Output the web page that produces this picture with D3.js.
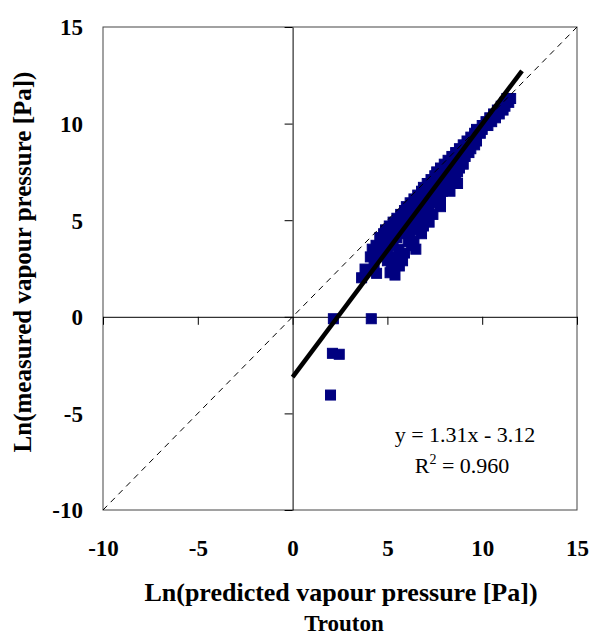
<!DOCTYPE html>
<html><head><meta charset="utf-8">
<script src="https://cdn.jsdelivr.net/npm/d3@7"></script>
<style>html,body{margin:0;padding:0;background:#fff;}svg{display:block;}</style>
</head><body><svg id="c" width="592" height="635"></svg>
<script>
// ---- data ----
const xTicks = [-10, -5, 0, 5, 10, 15];
const yTicks = [-10, -5, 0, 5, 10, 15];
const xTitle = "Ln(predicted vapour pressure [Pa])";
const xSubTitle = "Trouton";
const yTitle = "Ln(measured vapour pressure [Pa])";
const trendSlope = 1.31, trendIntercept = -3.12, trendR2 = 0.960;
const trendRange = [0, 12.1];
const identityRange = [-10, 15];
// [ln predicted, ln measured]
const observations = [
[11.5,11.3],[11.3,11.3],[11.2,11.1],[11.4,11.1],[11.0,10.9],[11.2,10.9],
[10.8,10.7],[11.1,10.7],[10.6,10.5],[10.9,10.5],[10.4,10.3],[10.7,10.3],
[10.2,10.1],[10.5,10.1],[10.0,9.9],[10.3,9.9],[9.7,9.7],[10.0,9.7],
[9.6,9.5],[9.9,9.5],[9.4,9.3],[9.6,9.3],[9.2,9.1],[9.5,9.1],[9.7,9.1],
[9.0,8.9],[9.3,8.9],[9.6,8.9],[8.8,8.7],[9.1,8.7],[9.4,8.7],
[8.6,8.5],[8.9,8.5],[9.3,8.5],[8.4,8.3],[8.8,8.3],[9.1,8.3],
[8.2,8.1],[8.5,8.1],[8.9,8.1],[8.0,7.9],[8.3,7.9],[8.7,7.9],[9.0,7.9],
[7.8,7.7],[8.1,7.7],[8.5,7.7],[8.8,7.7],[7.6,7.5],[7.9,7.5],[8.3,7.5],[8.7,7.5],
[7.5,7.3],[7.8,7.3],[8.1,7.3],[8.6,7.3],[7.3,7.1],[7.6,7.1],[8.0,7.1],[8.4,7.1],
[7.1,6.9],[7.5,6.9],[7.9,6.9],[8.3,6.9],[8.7,6.9],[6.9,6.7],[7.3,6.7],[7.7,6.7],[8.1,6.7],
[6.8,6.5],[7.1,6.5],[7.5,6.5],[7.9,6.5],[8.3,6.5],[6.6,6.3],[7.0,6.3],[7.4,6.3],[7.8,6.3],
[6.4,6.1],[6.8,6.1],[7.2,6.1],[7.6,6.1],[6.2,5.9],[6.6,5.9],[7.0,5.9],[7.4,5.9],[7.8,5.9],
[6.0,5.7],[6.4,5.7],[6.8,5.7],[7.2,5.7],[7.8,5.7],[5.9,5.5],[6.3,5.5],[6.7,5.5],[7.1,5.5],
[5.7,5.3],[6.1,5.3],[6.5,5.3],[6.9,5.3],[7.4,5.3],[5.5,5.1],[5.9,5.1],[6.4,5.1],[6.8,5.1],
[5.3,4.9],[5.7,4.9],[6.1,4.9],[6.6,4.9],[7.2,4.9],[5.1,4.7],[5.5,4.7],[6.0,4.7],[6.4,4.7],[6.9,4.7],
[4.9,4.5],[5.4,4.5],[5.8,4.5],[6.3,4.5],[4.8,4.3],[5.2,4.3],[5.7,4.3],[6.2,4.3],[6.8,4.3],
[4.6,4.1],[5.0,4.1],[5.5,4.1],[5.2,3.9],[6.1,3.9],[6.4,3.9],[4.4,3.7],[4.8,3.7],[5.3,3.7],
[4.2,3.5],[5.6,3.5],[6.5,3.5],[4.5,3.3],[5.0,3.3],[5.9,3.3],[4.1,3.1],[4.4,3.1],[5.4,3.1],
[5.0,2.9],[5.8,2.9],[4.3,2.7],[5.2,2.7],
[3.82,2.47],[3.64,2.02],[4.43,2.25],[5.14,2.28],[5.4,2.16],[5.63,2.63],[6.28,3.68],[4.61,3.63],
[2.15,-0.1],[4.15,-0.1],[2.1,-1.89],[2.46,-1.94],[2.0,-4.05]
];

// ---- drawing ----
const svg = d3.select("#c");
const serif = "'Liberation Serif','Times New Roman',serif";
const x = d3.scaleLinear().domain([-10, 15]).range([103, 577]);
const y = d3.scaleLinear().domain([-10, 15]).range([510, 27]);
const fmt = d => String(d); // plain hyphen-minus like the reference

svg.append("rect").attr("width", 592).attr("height", 635).attr("fill", "#fff");

// plot frame
svg.append("rect")
  .attr("x", x(-10)).attr("y", y(15))
  .attr("width", x(15) - x(-10)).attr("height", y(-10) - y(15))
  .attr("fill", "none").attr("stroke", "#444").attr("stroke-width", 1);

// zero axes with ticks
const xZero = svg.append("g").attr("transform", `translate(0,${y(0)})`)
  .call(d3.axisBottom(x).tickValues(xTicks).tickSizeInner(8).tickSizeOuter(0).tickFormat(""));
const yZero = svg.append("g").attr("transform", `translate(${x(0)},0)`)
  .call(d3.axisLeft(y).tickValues(yTicks).tickSizeInner(8).tickSizeOuter(0).tickFormat(""));
[xZero, yZero].forEach(g => {
  g.selectAll("path,line").attr("stroke", "#000").attr("stroke-width", 1);
});

// tick labels at the frame
const xLab = svg.append("g").attr("transform", `translate(0,${y(-10)})`)
  .call(d3.axisBottom(x).tickValues(xTicks).tickSize(0).tickPadding(46).tickFormat(fmt));
xLab.select(".domain").remove();
xLab.selectAll("text").attr("font-family", serif).attr("font-weight", "bold")
  .attr("font-size", 23).attr("fill", "#000").attr("dy", 0);
const yLab = svg.append("g").attr("transform", `translate(${x(-10)},0)`)
  .call(d3.axisLeft(y).tickValues(yTicks).tickSize(0).tickPadding(20).tickFormat(fmt));
yLab.select(".domain").remove();
yLab.selectAll("text").attr("font-family", serif).attr("font-weight", "bold")
  .attr("font-size", 23).attr("fill", "#000").attr("dy", "0.34em");

// markers
svg.append("g").selectAll("rect").data(observations).join("rect")
  .attr("x", d => x(d[0]) - 5).attr("y", d => y(d[1]) - 5)
  .attr("width", 10).attr("height", 10)
  .attr("fill", "#000080").attr("stroke", "#000080").attr("stroke-width", 1);

// identity line
svg.append("line")
  .attr("x1", x(identityRange[0])).attr("y1", y(identityRange[0]))
  .attr("x2", x(identityRange[1])).attr("y2", y(identityRange[1]))
  .attr("stroke", "#000").attr("stroke-width", 1).attr("stroke-dasharray", "6,5");

// trend line
svg.append("line")
  .attr("x1", x(trendRange[0])).attr("y1", y(trendSlope * trendRange[0] + trendIntercept))
  .attr("x2", x(trendRange[1])).attr("y2", y(trendSlope * trendRange[1] + trendIntercept))
  .attr("stroke", "#000").attr("stroke-width", 4.5);

// equation
svg.append("text").attr("x", 465).attr("y", 442).attr("text-anchor", "middle")
  .attr("font-family", serif).attr("font-size", 22).attr("fill", "#000")
  .text(`y = ${trendSlope}x - ${Math.abs(trendIntercept)}`);
const r2 = svg.append("text").attr("x", 462).attr("y", 473).attr("text-anchor", "middle")
  .attr("font-family", serif).attr("font-size", 22).attr("fill", "#000");
r2.append("tspan").text("R");
r2.append("tspan").attr("font-size", 14).attr("dy", -9).text("2");
r2.append("tspan").attr("dy", 9).text(" = " + trendR2.toFixed(3));

// axis titles
svg.append("text").attr("x", 341).attr("y", 601).attr("text-anchor", "middle")
  .attr("font-family", serif).attr("font-weight", "bold").attr("font-size", 26).attr("fill", "#000")
  .text(xTitle);
svg.append("text").attr("x", 344).attr("y", 631).attr("text-anchor", "middle")
  .attr("font-family", serif).attr("font-weight", "bold").attr("font-size", 23).attr("fill", "#000")
  .text(xSubTitle);
svg.append("text").attr("transform", "translate(31,262) rotate(-90)").attr("text-anchor", "middle")
  .attr("font-family", serif).attr("font-weight", "bold").attr("font-size", 25).attr("fill", "#000")
  .text(yTitle);
</script></body></html>
